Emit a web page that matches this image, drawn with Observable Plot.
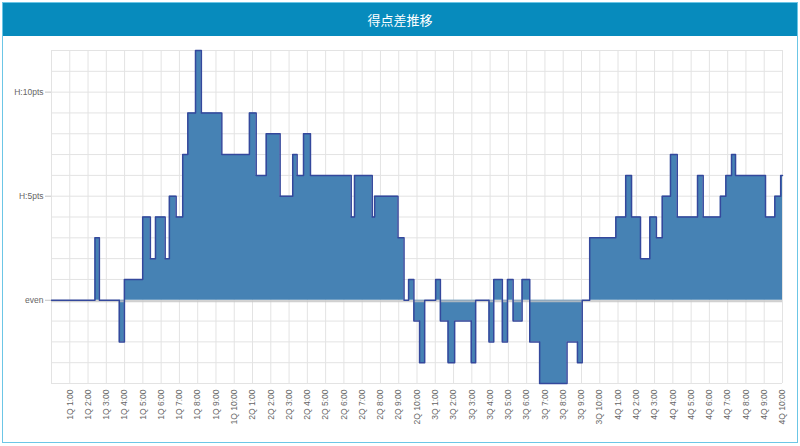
<!DOCTYPE html>
<html><head><meta charset="utf-8">
<script src="https://cdn.jsdelivr.net/npm/d3@7"></script>
<script src="https://cdn.jsdelivr.net/npm/@observablehq/plot@0.6"></script>
<style>
body{margin:0;background:#fff;font-family:"Liberation Sans",Arial,sans-serif;}
#card{position:absolute;left:2px;top:2px;width:796px;height:441px;box-sizing:border-box;border:1px solid #6cc6e6;background:#fff;overflow:hidden;}
#hdr{height:33px;background:#078bbd;color:#fff;text-align:center;line-height:33px;font-size:13px;font-family:"Noto Sans CJK JP",sans-serif;}
#chart svg{display:block;}
</style></head><body>
<div id="card"><div id="hdr">得点差推移</div><div id="chart"></div></div>
<script>
// elapsed game minutes at which the score difference changed
const changeMinutes = [0, 2.38, 2.62, 3.71, 3.99, 4.99, 5.41, 5.69, 6.22, 6.45, 6.82, 7.18, 7.46, 7.88, 8.2, 9.32,
  10.83, 11.2, 11.75, 12.51, 13.2, 13.44, 13.79, 14.17, 16.4, 16.58, 17.55, 17.68, 18.96, 19.29, 19.54, 19.83,
  20.14, 20.42, 21.02, 21.28, 21.7, 22.06, 22.97, 23.21, 23.94, 24.2, 24.67, 24.95, 25.26, 25.75, 26.17, 26.71,
  28.21, 28.78, 29.04, 29.45, 30.88, 31.42, 31.74, 32.23, 32.74, 33.1, 33.42, 33.87, 34.24, 35.35, 35.66, 36.6,
  36.9, 37.21, 37.43, 39.07, 39.58, 39.9, 40];
// score difference (home minus away) from that minute on
const scoreDiff = [0, 3, 0, -2, 1, 4, 2, 4, 2, 5, 4, 7, 9, 12, 9, 7,
  9, 6, 8, 5, 7, 6, 8, 6, 4, 6, 4, 5, 3, 0, 1, -1,
  -3, 0, 1, -1, -3, -1, -3, 0, -2, 1, -2, 1, -1, 1, -2, -4,
  -2, -3, 0, 3, 4, 6, 4, 2, 4, 3, 5, 7, 4, 6, 4, 5,
  6, 7, 6, 4, 5, 6, 6];

const xTickMinutes = [1,2,3,4,5,6,7,8,9,10,11,12,13,14,15,16,17,18,19,20,21,22,23,24,25,26,27,28,29,30,31,32,33,34,35,36,37,38,39,40];
const xTickLabels = ["1Q 1:00","1Q 2:00","1Q 3:00","1Q 4:00","1Q 5:00","1Q 6:00","1Q 7:00","1Q 8:00","1Q 9:00","1Q 10:00",
  "2Q 1:00","2Q 2:00","2Q 3:00","2Q 4:00","2Q 5:00","2Q 6:00","2Q 7:00","2Q 8:00","2Q 9:00","2Q 10:00",
  "3Q 1:00","3Q 2:00","3Q 3:00","3Q 4:00","3Q 5:00","3Q 6:00","3Q 7:00","3Q 8:00","3Q 9:00","3Q 10:00",
  "4Q 1:00","4Q 2:00","4Q 3:00","4Q 4:00","4Q 5:00","4Q 6:00","4Q 7:00","4Q 8:00","4Q 9:00","4Q 10:00"];
const yTickValues = [0, 5, 10];
const yTickLabels = ["even", "H:5pts", "H:10pts"];
const gridMinutes = [0,1,2,3,4,5,6,7,8,9,10,11,12,13,14,15,16,17,18,19,20,21,22,23,24,25,26,27,28,29,30,31,32,33,34,35,36,37,38,39,40];
const gridPoints = [-4,-3,-2,-1,0,1,2,3,4,5,6,7,8,9,10,11,12];

const data = changeMinutes.map((t, i) => ({t, v: scoreDiff[i]}));

const chart = Plot.plot({
  width: 794, height: 406,
  marginLeft: 48, marginRight: 15, marginTop: 14, marginBottom: 59,
  style: {fontFamily: "Liberation Sans, Arial, sans-serif", fontSize: "8.5px", color: "#666", background: "transparent"},
  x: {domain: [0, 40], axis: null},
  y: {domain: [-4, 12], axis: null},
  marks: [
    Plot.gridX(gridMinutes, {stroke: "#e3e3e3", strokeOpacity: 1}),
    Plot.gridY(gridPoints, {stroke: "#e3e3e3", strokeOpacity: 1}),
    Plot.areaY(data, {x: "t", y: "v", curve: "step-after", fill: "#4682b4"}),
    Plot.ruleY([0], {stroke: "#c4c4c4", strokeWidth: 2, strokeOpacity: 0.8, dy: 1}),
    Plot.lineY(data, {x: "t", y: "v", curve: "step-after", stroke: "#34489c", strokeWidth: 1.5}),
    Plot.axisX(xTickMinutes, {tickFormat: d => xTickLabels[d - 1], tickRotate: -90, tickSize: 0, tickPadding: 6, label: null, fill: "#666"}),
    Plot.axisY(yTickValues, {tickFormat: d => yTickLabels[yTickValues.indexOf(d)], tickSize: 6, tickPadding: 2, stroke: "#c4c4c4", label: null, fill: "#666"})
  ]
});
document.getElementById("chart").appendChild(chart);
</script>
</body></html>
